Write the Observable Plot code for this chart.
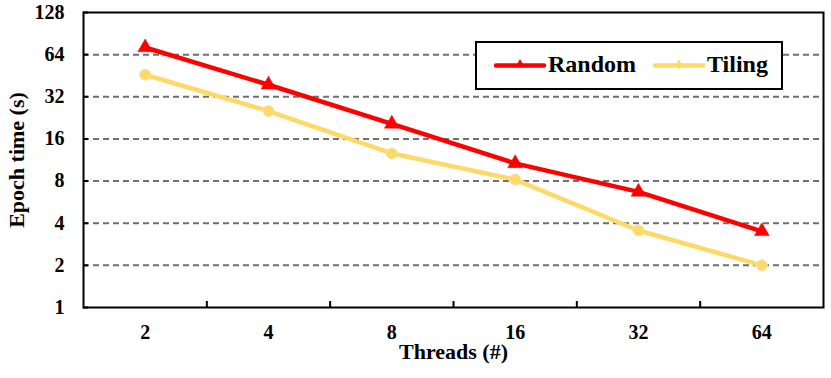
<!DOCTYPE html>
<html>
<head>
<meta charset="utf-8">
<script src="https://cdn.jsdelivr.net/npm/d3@7"></script>
<script src="https://cdn.jsdelivr.net/npm/@observablehq/plot@0.6"></script>
<style>
  html, body { margin: 0; padding: 0; background: #fff; }
  #chart svg { display: block; }
</style>
</head>
<body>
<div id="chart"></div>
<script>
// ---- data ----
const threads = ["2", "4", "8", "16", "32", "64"];
const seriesNames = ["Random", "Tiling"];
const randomTimes = [72, 39, 20.5, 10.7, 6.7, 3.5];
const tilingTimes = [46, 25.3, 12.6, 8.2, 3.55, 2.0];
const yTicks = [1, 2, 4, 8, 16, 32, 64, 128];
const gridTicks = [2, 4, 8, 16, 32, 64];
const xBoundaries = [1, 2, 3, 4, 5];
const xTitle = "Threads (#)";
const yTitle = "Epoch time (s)";
const colors = ["#FF0000", "#FFD966"];

const rows = [];
threads.forEach((t, i) => {
  rows.push({series: "Random", idx: i + 0.5, value: randomTimes[i]});
  rows.push({series: "Tiling", idx: i + 0.5, value: tilingTimes[i]});
});
const randomRows = rows.filter(d => d.series === "Random");
const tilingRows = rows.filter(d => d.series === "Tiling");

const font = "'Liberation Serif', 'Times New Roman', serif";

const chart = Plot.plot({
  width: 831,
  height: 378,
  marginLeft: 83,
  marginRight: 8,
  marginTop: 12,
  marginBottom: 71,
  style: {fontFamily: font, fontWeight: "bold", background: "white", color: "black"},
  x: {type: "linear", domain: [0, threads.length], axis: null},
  y: {type: "log", base: 2, domain: [1, 128], axis: null},
  color: {domain: seriesNames, range: colors},
  marks: [
    Plot.ruleY(gridTicks, {stroke: "#707070", strokeWidth: 2, strokeDasharray: "6,4"}),
    Plot.frame({stroke: "black", strokeWidth: 2}),
    // inward y ticks
    Plot.ruleY(yTicks, {x1: 0, x2: 0, insetRight: -5, stroke: "black", strokeWidth: 2}),
    // inward x ticks at category boundaries
    Plot.ruleX(xBoundaries, {y1: 1, y2: 1, insetBottom: 6, stroke: "black", strokeWidth: 2}),
    // y tick labels
    Plot.text(yTicks, {x: 0, y: d => d, text: d => String(d), textAnchor: "end", dx: -19, fontSize: 20, fontWeight: "bold"}),
    // x tick labels
    Plot.text(threads, {x: (d, i) => i + 0.5, y: 1, text: d => d, dy: 25, fontSize: 20, fontWeight: "bold"}),
    // axis titles
    Plot.text([xTitle], {frameAnchor: "bottom", textAnchor: "middle", lineAnchor: "middle", dy: 44, fontSize: 22, fontWeight: "bold", letterSpacing: "1px"}),
    Plot.text([yTitle], {frameAnchor: "left", textAnchor: "middle", lineAnchor: "middle", rotate: -90, dx: -67, fontSize: 22, fontWeight: "bold", letterSpacing: "1px"}),
    // lines
    Plot.line(rows, {x: "idx", y: "value", z: "series", stroke: "series", strokeWidth: 4.5}),
    Plot.dot(randomRows, {x: "idx", y: "value", symbol: "triangle", r: 5.5, fill: "series", stroke: "series", strokeWidth: 0.5}),
    Plot.dot(tilingRows, {x: "idx", y: "value", symbol: "circle", r: 5.5, fill: "series", stroke: "#F3E3A6", strokeWidth: 1})
  ]
});

document.getElementById("chart").appendChild(chart);

// ---- legend inside the plot area ----
const svg = d3.select(chart);
const lg = svg.append("g").attr("font-family", font).attr("font-weight", "bold").attr("text-anchor", "start");
lg.append("rect").attr("x", 476).attr("y", 42).attr("width", 306).attr("height", 47)
  .attr("fill", "white").attr("stroke", "black").attr("stroke-width", 2);
const legendItems = [
  {name: seriesNames[0], color: colors[0], x: 496, shape: d3.symbolTriangle, size: 40},
  {name: seriesNames[1], color: colors[1], x: 655, shape: d3.symbolDiamond, size: 32}
];
legendItems.forEach(it => {
  lg.append("line").attr("x1", it.x).attr("x2", it.x + 48).attr("y1", 65.5).attr("y2", 65.5)
    .attr("stroke", it.color).attr("stroke-width", 4.5).attr("stroke-linecap", "round");
  lg.append("path").attr("d", d3.symbol(it.shape, it.size)())
    .attr("transform", `translate(${it.x + 24},${64.5})`).attr("fill", it.color);
  lg.append("text").attr("x", it.x + 52).attr("y", 72).attr("font-size", 24)
    .attr("text-anchor", "start").attr("fill", "black").text(it.name);
});
</script>
</body>
</html>
